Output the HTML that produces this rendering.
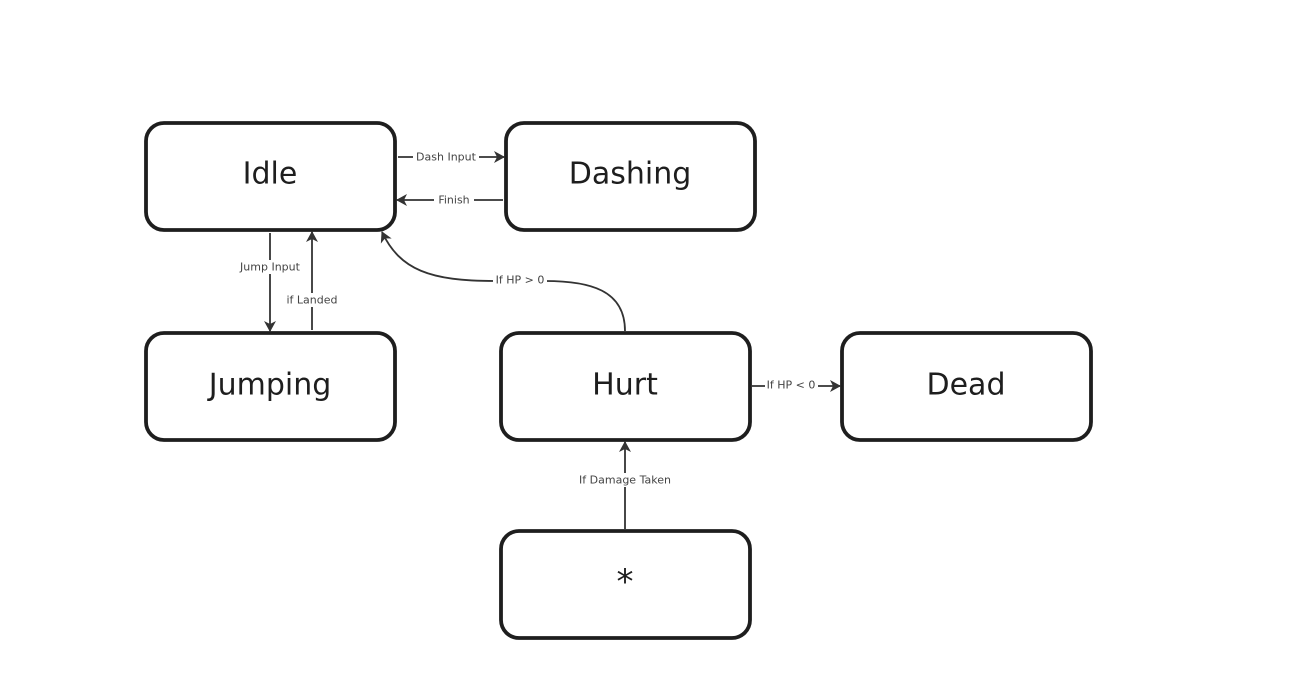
<!DOCTYPE html>
<html><head><meta charset="utf-8"><style>
html,body{margin:0;padding:0;background:#fff;}
svg{display:block;}
.b{fill:#fff;stroke:#1e1e1e;stroke-width:3.8;}
.t{font-family:"DejaVu Sans","Liberation Sans",sans-serif;font-size:30px;fill:#1e1e1e;text-anchor:middle;dominant-baseline:central;}
.l{font-family:"DejaVu Sans","Liberation Sans",sans-serif;font-size:11px;fill:#444;text-anchor:middle;dominant-baseline:central;}
.c{stroke:#333;stroke-width:1.8;fill:none;}
.bg{fill:#fff;}
</style></head><body>
<svg width="1289" height="700" xmlns="http://www.w3.org/2000/svg">
<defs><marker id="a" markerWidth="12" markerHeight="12" refX="10" refY="6" orient="auto" markerUnits="userSpaceOnUse"><path d="M0,0 L11,6 L0,12 L3,6 Z" fill="#333"/></marker></defs>
<line class="c" x1="398" y1="157" x2="504" y2="157" marker-end="url(#a)"/>
<rect class="bg" x="413" y="150" width="66" height="14"/><text class="l" x="446" y="157">Dash Input</text>
<line class="c" x1="503" y1="200" x2="397" y2="200" marker-end="url(#a)"/>
<rect class="bg" x="434" y="193" width="40" height="14"/><text class="l" x="454" y="200">Finish</text>
<line class="c" x1="270" y1="233" x2="270" y2="331" marker-end="url(#a)"/>
<rect class="bg" x="236" y="260" width="68" height="14"/><text class="l" x="270" y="267">Jump Input</text>
<line class="c" x1="312" y1="330" x2="312" y2="232" marker-end="url(#a)"/>
<rect class="bg" x="283" y="293" width="58" height="14"/><text class="l" x="312" y="300">if Landed</text>
<path class="c" d="M625,331 C625,290 590,281 545,281 L495,281 C430,281 400,270 382,232" marker-end="url(#a)"/>
<rect class="bg" x="493" y="273" width="54" height="14"/><text class="l" x="520" y="280">If HP &gt; 0</text>
<line class="c" x1="752" y1="386" x2="840" y2="386" marker-end="url(#a)"/>
<rect class="bg" x="765" y="378" width="53" height="14"/><text class="l" x="791" y="385">If HP &lt; 0</text>
<line class="c" x1="625" y1="529" x2="625" y2="442" marker-end="url(#a)"/>
<rect class="bg" x="574" y="473" width="102" height="14"/><text class="l" x="625" y="480">If Damage Taken</text>
<rect class="b" x="146" y="123" width="249" height="107" rx="18"/><text class="t" x="270" y="174">Idle</text>
<rect class="b" x="506" y="123" width="249" height="107" rx="18"/><text class="t" x="630" y="174">Dashing</text>
<rect class="b" x="146" y="333" width="249" height="107" rx="18"/><text class="t" x="270" y="385">Jumping</text>
<rect class="b" x="501" y="333" width="249" height="107" rx="18"/><text class="t" x="625" y="385">Hurt</text>
<rect class="b" x="842" y="333" width="249" height="107" rx="18"/><text class="t" x="966" y="385">Dead</text>
<rect class="b" x="501" y="531" width="249" height="107" rx="18"/><text class="t" x="625" y="582" style="font-size:34px">*</text>
</svg>
</body></html>
